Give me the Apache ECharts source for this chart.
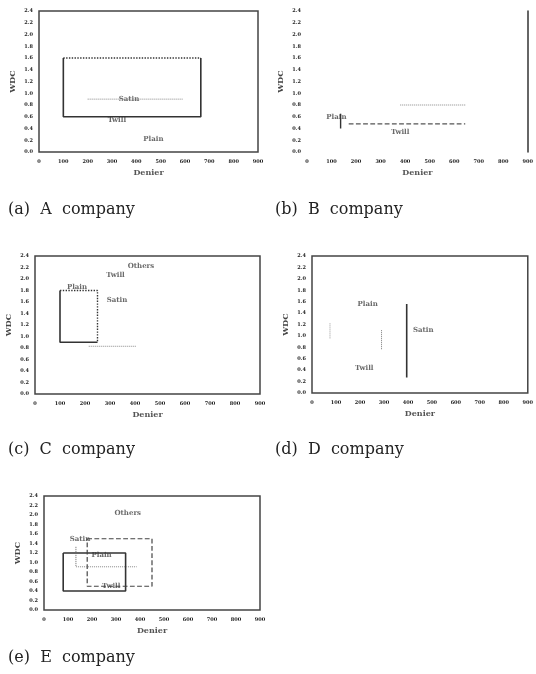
<!DOCTYPE html>
<html><head><meta charset="utf-8">
<script src="https://cdn.jsdelivr.net/npm/echarts@6/dist/echarts.min.js"></script>
<style>html,body{margin:0;padding:0;background:#fff}#c{width:536px;height:674px}</style>
</head><body><div id="c"></div>
<script>
// ---- axis ticks (shared) ----
const xTicks = [0,100,200,300,400,500,600,700,800,900];
const yTicks = [0,0.2,0.4,0.6,0.8,1.0,1.2,1.4,1.6,1.8,2.0,2.2,2.4];
const xTitle = 'Denier';
const yTitle = 'WDC';
const captions = ['(a)  A  company','(b)  B  company','(c)  C  company','(d)  D  company','(e)  E  company'];

// ---- A company ----
const A_solid  = [[100,1.6],[100,0.6],[665,0.6],[665,1.6]];
const A_dotTop = [[100,1.6],[665,1.6]];
const A_dotMid = [[200,0.9],[590,0.9]];
const A_labels = [['Satin',370,0.9],['Twill',320,0.55],['Plain',470,0.22]];

// ---- B company ----
const B_dash   = [[170,0.48],[645,0.48]];
const B_solid  = [[137,0.65],[137,0.4]];
const B_dot    = [[380,0.8],[645,0.8]];
const B_labels = [['Plain',120,0.6],['Twill',380,0.34]];

// ---- C company ----
const C_solid  = [[250,0.9],[100,0.9],[100,1.8]];
const C_dot    = [[100,1.8],[250,1.8],[250,0.9]];
const C_dotLow = [[215,0.83],[405,0.83]];
const C_labels = [['Others',424,2.23],['Twill',322,2.06],['Satin',328,1.64],['Plain',168,1.86]];

// ---- D company ----
const D_solid  = [[395,1.56],[395,0.27]];
const D_dot1   = [[75,1.22],[75,0.95]];
const D_dot2   = [[290,1.1],[290,0.76]];
const D_labels = [['Plain',232,1.56],['Satin',464,1.1],['Twill',218,0.43]];

// ---- E company ----
const E_solid  = [[80,1.2],[340,1.2],[340,0.4],[80,0.4],[80,1.2]];
const E_dash   = [[180,1.5],[450,1.5],[450,0.5],[180,0.5],[180,1.5]];
const E_dotV   = [[133,1.33],[133,0.91]];
const E_dotH   = [[133,0.91],[386,0.91]];
const E_labels = [['Others',349,2.03],['Satin',150,1.5],['Plain',240,1.16],['Twill',280,0.5]];

const grids = [
  {left:39, top:11, width:219, height:141, border:true},
  {left:307,top:11, width:224, height:141, border:false},
  {left:35, top:256,width:225, height:138, border:true},
  {left:312,top:256,width:222, height:137, border:true},
  {left:44, top:496,width:216, height:114, border:true}
];
const capPos = [[8,212],[275,212],[8,452],[275,452],[8,660]];

const serif = 'DejaVu Serif';
const ink = '#333';

const option = {
  animation:false,
  backgroundColor:'#fff',
  grid: grids.map(g=>({left:g.left,top:g.top,width:g.width,height:g.height,show:g.border,borderColor:'#444',borderWidth:1.5,backgroundColor:'transparent'})),
  xAxis: grids.map((g,i)=>({
    type:'value', gridIndex:i, min:xTicks[0], max:xTicks[xTicks.length-1], interval:100,
    name:xTitle, nameLocation:'middle', nameGap:17,
    nameTextStyle:{fontFamily:serif,fontSize:8,color:'#555',fontWeight:'bold'},
    axisLine:{show:false}, axisTick:{show:false}, splitLine:{show:false},
    axisLabel:{fontFamily:serif,fontSize:5,fontWeight:'bold',color:'#222',margin:7}
  })),
  yAxis: grids.map((g,i)=>({
    type:'value', gridIndex:i, min:yTicks[0], max:yTicks[yTicks.length-1], interval:0.2,
    name:yTitle, nameLocation:'middle', nameGap:22, nameRotate:90,
    nameTextStyle:{fontFamily:serif,fontSize:8,color:'#444',fontWeight:'bold'},
    axisLine:{show:false}, axisTick:{show:false}, splitLine:{show:false},
    axisLabel:{fontFamily:serif,fontSize:5,fontWeight:'bold',color:'#222',margin:6,formatter:v=>v.toFixed(1)}
  })).concat([{
    type:'value', gridIndex:1, min:0, max:2.4, position:'right',
    axisLine:{show:true,lineStyle:{color:'#333',width:1.5}}, axisTick:{show:false}, axisLabel:{show:false}, splitLine:{show:false}
  }]),
  series: [],
  graphic: captions.map((t,i)=>({
    type:'text', left:capPos[i][0], top:capPos[i][1]-10,
    style:{text:t, fontFamily:serif, fontSize:16, fill:'#222'}
  }))
};

function line(idx, data, type, width, color){
  option.series.push({type:'line', xAxisIndex:idx, yAxisIndex:idx, data:data, symbol:'none',
    lineStyle:{type:type, width:width||1.4, color:color||ink}, silent:true});
}
function labels(idx, arr){
  option.series.push({type:'scatter', xAxisIndex:idx, yAxisIndex:idx, symbolSize:0,
    data:arr.map(a=>({name:a[0], value:[a[1],a[2]]})),
    label:{show:true, position:'inside', formatter:'{b}', fontFamily:serif, fontSize:7, fontWeight:'bold', color:'#444'}, silent:true});
}

// A
line(0, A_solid, 'solid', 1.6);
line(0, A_dotTop, 'dotted', 1.4);
line(0, A_dotMid, 'dotted', 1, '#888');
labels(0, A_labels);
// B
line(1, B_dash, 'dashed', 1.2, '#555');
line(1, B_solid, 'solid', 1.4);
line(1, B_dot, 'dotted', 1, '#888');
labels(1, B_labels);
// C
line(2, C_solid, 'solid', 1.6);
line(2, C_dot, 'dotted', 1.4);
line(2, C_dotLow, 'dotted', 1, '#888');
labels(2, C_labels);
// D
line(3, D_solid, 'solid', 1.6);
line(3, D_dot1, 'dotted', 1, '#999');
line(3, D_dot2, 'dotted', 1, '#777');
labels(3, D_labels);
// E
line(4, E_solid, 'solid', 1.6);
line(4, E_dash, 'dashed', 1.2, '#444');
line(4, E_dotV, 'dotted', 1, '#666');
line(4, E_dotH, 'dotted', 1, '#888');
labels(4, E_labels);

const chart = echarts.init(document.getElementById('c'), null, {renderer:'canvas'});
chart.setOption(option);
</script>
</body></html>
